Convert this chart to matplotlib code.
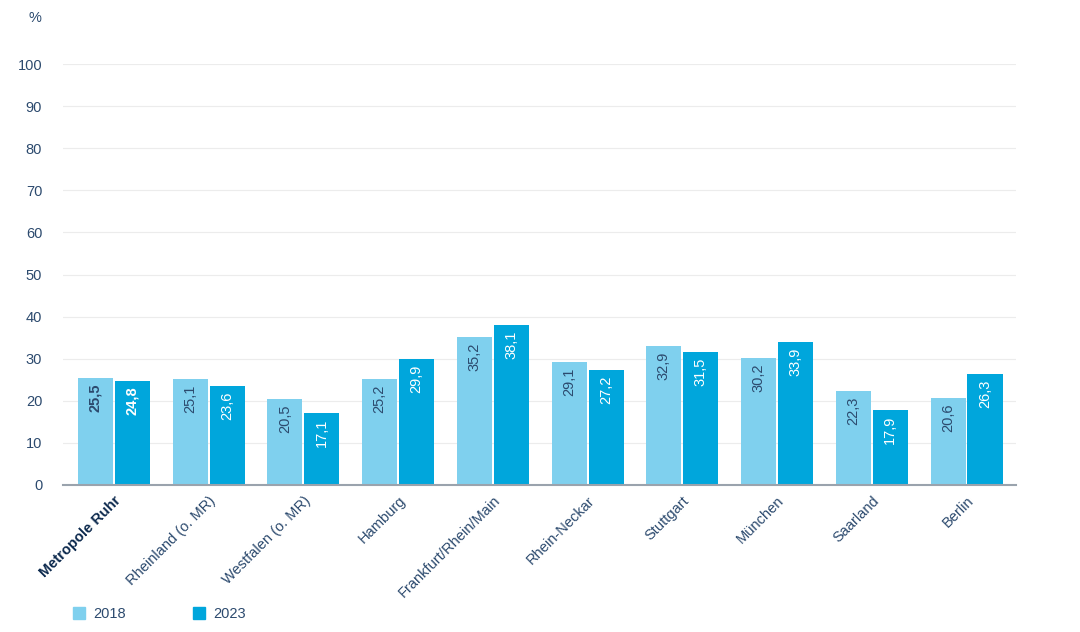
import matplotlib.pyplot as plt
import numpy as np
from matplotlib.patches import Patch

regions = ['Metropole Ruhr', 'Rheinland (o. MR)', 'Westfalen (o. MR)', 'Hamburg',
           'Frankfurt/Rhein/Main', 'Rhein-Neckar', 'Stuttgart', 'München', 'Saarland', 'Berlin']
v2018 = [25.5, 25.1, 20.5, 25.2, 35.2, 29.1, 32.9, 30.2, 22.3, 20.6]
v2023 = [24.8, 23.6, 17.1, 29.9, 38.1, 27.2, 31.5, 33.9, 17.9, 26.3]
labels_2018 = ['25,5', '25,1', '20,5', '25,2', '35,2', '29,1', '32,9', '30,2', '22,3', '20,6']
labels_2023 = ['24,8', '23,6', '17,1', '29,9', '38,1', '27,2', '31,5', '33,9', '17,9', '26,3']

c_light = '#7fd0ee'
c_dark = '#00a6dc'
txt = '#2c4a6e'

plt.rcParams['font.family'] = ['Liberation Sans', 'DejaVu Sans']

fig = plt.figure(figsize=(10.8, 6.32), dpi=100)
ax = fig.add_axes([63 / 1080, 1 - 485 / 632, 953 / 1080, 421 / 632])

x = np.arange(len(regions))
w = 0.37
off = 0.195
ax.bar(x - off, v2018, w, color=c_light, label='2018')
ax.bar(x + off, v2023, w, color=c_dark, label='2023')

for i in range(len(regions)):
    bold = 'bold' if i == 0 else 'normal'
    ax.annotate(labels_2018[i], (x[i] - off, v2018[i]), xytext=(0, -4),
                textcoords='offset points', rotation=90, ha='center', va='top',
                fontsize=10.5, color=txt, fontweight=bold)
    ax.annotate(labels_2023[i], (x[i] + off, v2023[i]), xytext=(0, -4),
                textcoords='offset points', rotation=90, ha='center', va='top',
                fontsize=10.5, color='white', fontweight=bold)

ax.set_xlim(-0.538, 9.522)
ax.set_ylim(0, 100)
ax.set_yticks(range(0, 101, 10))
ax.yaxis.grid(True, color='#ececec', linewidth=0.8)
ax.set_axisbelow(True)
for s in ['top', 'right', 'left']:
    ax.spines[s].set_visible(False)
ax.spines['bottom'].set_color('#9aa3ad')
ax.spines['bottom'].set_linewidth(1.5)
ax.tick_params(axis='y', length=0, labelsize=10.5, labelcolor=txt, pad=15)
ax.tick_params(axis='x', length=0, labelsize=10.5, labelcolor=txt, pad=6)
ax.set_xticks(x)
ax.set_xticklabels(regions, rotation=45, ha='right', rotation_mode='anchor')
tl = ax.get_xticklabels()[0]
tl.set_fontweight('bold')
tl.set_color('#0d2a4e')
tl.set_family(['Liberation Sans Narrow', 'Liberation Sans'])

fig.text(35 / 1080, 1 - 18 / 632, '%', fontsize=10.5, color=txt, ha='center', va='center')

handles = [Patch(color=c_light, label='2018'), Patch(color=c_dark, label='2023')]
fig.legend(handles=handles, loc='center left', bbox_to_anchor=(60 / 1080, 1 - 614 / 632),
           ncol=2, frameon=False, fontsize=10.5, labelcolor=txt, handlelength=0.8,
           handleheight=0.8, columnspacing=4.6, handletextpad=0.6)

fig.savefig('out.png', dpi=100)
